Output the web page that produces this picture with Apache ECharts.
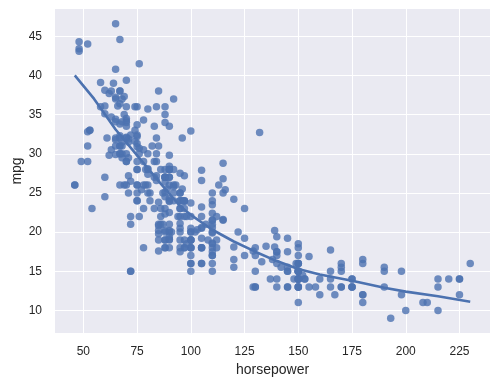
<!DOCTYPE html>
<html>
<head>
<meta charset="utf-8">
<script src="https://cdn.jsdelivr.net/npm/echarts@6/dist/echarts.min.js"></script>
<style>
html,body{margin:0;padding:0;background:#fff;}
#chart{width:499px;height:385px;}
</style>
</head>
<body>
<div id="chart"></div>
<script>
const horsepower = [
130,165,150,150,140,198,220,215,225,190,170,160,150,225,95,95,97,85,88,46,87,90,95,113,90,215,200,210,193,88,90,95,
100,105,100,88,100,165,175,153,150,180,170,175,110,72,100,88,86,
90,70,76,65,69,60,70,95,80,54,90,86,165,175,150,153,150,208,155,160,
190,97,150,130,140,150,112,76,87,69,86,92,97,80,88,175,150,145,137,150,
198,150,158,150,215,225,175,105,100,100,88,95,46,150,167,170,180,100,88,72,
94,90,85,107,90,145,230,49,75,91,112,150,110,122,180,95,
100,100,67,80,65,75,100,110,105,140,150,150,140,150,83,67,78,52,61,75,75,75,97,
93,67,95,105,72,72,170,145,150,148,110,105,110,95,110,110,129,75,83,100,
78,96,71,97,97,70,90,95,88,98,115,53,86,81,92,79,83,140,150,120,
152,100,105,81,90,52,60,70,53,100,78,110,95,71,70,75,72,102,150,88,
108,120,180,145,130,150,68,80,58,96,70,145,110,145,130,110,105,100,98,180,
170,190,149,78,88,75,89,63,83,67,78,97,110,110,48,66,52,70,60,110,
140,139,105,95,85,88,100,90,105,85,110,120,145,165,139,140,68,95,97,75,
95,105,85,97,103,125,115,133,71,68,115,85,88,90,110,130,129,138,135,155,
142,125,150,71,65,80,80,77,125,71,90,70,70,65,69,90,115,115,90,76,
60,70,65,90,88,90,90,78,90,75,92,75,65,105,65,48,48,67,67,67,
67,62,132,100,88,
72,84,84,92,110,84,58,64,60,67,65,62,68,63,65,65,74,
75,75,100,74,80,76,116,120,110,105,88,85,88,88,88,85,84,90,92,
74,68,68,63,70,88,75,70,67,67,67,110,85,92,112,96,84,90,52,84,79,82
];
const mpg = [
18,15,18,16,17,15,14,14,14,15,15,14,15,14,24,22,18,21,27,26,25,24,25,26,21,10,10,11,9,27,28,25,
19,16,17,19,18,14,14,14,14,12,13,13,18,22,19,18,23,
28,30,30,31,35,27,26,24,25,23,20,21,13,14,15,14,17,11,13,12,
13,19,15,13,13,14,18,22,21,26,22,28,23,28,27,13,14,13,14,15,
12,13,13,14,13,12,13,18,16,18,18,23,26,11,12,13,12,18,20,21,
22,18,19,21,26,15,16,29,24,20,19,15,24,20,11,20,
19,15,31,26,32,25,16,16,18,16,13,14,14,14,29,26,26,31,32,28,24,26,24,
26,31,19,18,15,15,16,15,16,14,17,16,15,18,21,20,13,29,23,20,
23,24,25,24,18,29,19,23,23,22,25,33,28,25,25,26,27,17.5,16,15.5,
14.5,22,22,24,22.5,29,24.5,29,33,20,18,18.5,17.5,29.5,32,28,26.5,20,13,19,
19,16.5,16.5,13,13,13,31.5,30,36,25.5,33.5,17.5,17,15.5,15,17.5,20.5,19,18.5,16,
15.5,15.5,16,29,24.5,26,25.5,30.5,33.5,30,30.5,22,21.5,21.5,43.1,36.1,32.8,39.4,36.1,19.9,
19.4,20.2,19.2,20.5,20.2,25.1,20.5,19.4,20.6,20.8,18.6,18.1,19.2,17.7,18.1,17.5,30,27.5,27.2,30.9,
21.1,23.2,23.8,23.9,20.3,17,21.6,16.2,31.5,29.5,21.5,19.8,22.3,20.2,20.6,17,17.6,16.5,18.2,16.9,
15.5,19.2,18.5,31.9,34.1,35.7,27.4,25.4,23,27.2,23.9,34.2,34.5,31.8,37.3,28.4,28.8,26.8,33.5,41.5,
38.1,32.1,37.2,28,26.4,24.3,19.1,34.3,29.8,31.3,37,32.2,46.6,27.9,40.8,44.3,43.4,36.4,30,44.6,
33.8,29.8,32.7,23.7,35,
32.4,27.2,26.6,25.8,23.5,30,39.1,39,35.1,32.3,37,37.7,34.1,34.7,34.4,29.9,33,
33.7,32.4,32.9,31.6,28.1,30.7,25.4,24.2,22.4,26.6,20.2,17.6,28,27,34,31,29,27,24,
36,37,31,38,36,36,36,34,38,32,38,25,38,26,22,32,36,27,44,32,28,31
];
// smoothed trend line
const fitX = [46,55,65,75,85,95,100,110,120,130,140,150,160,175,190,200,215,230];
const fitY = [40.0,37.0,33.1,29.8,26.5,23.3,22.2,20.3,18.8,17.5,16.3,15.3,14.6,13.8,12.9,12.4,11.8,11.1];
const xTicks = [50,75,100,125,150,175,200,225];
const yTicks = [10,15,20,25,30,35,40,45];

const points = horsepower.map((h, i) => [h, mpg[i]]);
const fit = fitX.map((x, i) => [x, fitY[i]]);
const font = 'Liberation Sans, Arial, sans-serif';
const txt = '#262626';

const chart = echarts.init(document.getElementById('chart'), null, {renderer: 'canvas'});
chart.setOption({
  animation: false,
  backgroundColor: '#ffffff',
  grid: {left: 55, right: 9, top: 9, bottom: 52, containLabel: false, outerBoundsMode: 'none',
         show: true, backgroundColor: '#EAEAF2', borderWidth: 0},
  xAxis: {
    type: 'value', min: 36.8, max: 239.2,
    name: 'horsepower', nameLocation: 'middle', nameGap: 30, nameMoveOverlap: false,
    nameTextStyle: {fontFamily: font, fontSize: 14, color: txt},
    axisLine: {show: false},
    axisTick: {show: false, customValues: xTicks},
    axisLabel: {customValues: xTicks, fontFamily: font, fontSize: 12, color: txt, margin: 13},
    splitLine: {show: true, lineStyle: {color: '#ffffff', width: 1}}
  },
  yAxis: {
    type: 'value', min: 7.12, max: 48.48,
    name: 'mpg', nameLocation: 'middle', nameGap: 31, nameMoveOverlap: false,
    nameTextStyle: {fontFamily: font, fontSize: 14, color: txt},
    axisLine: {show: false},
    axisTick: {show: false, customValues: yTicks},
    axisLabel: {customValues: yTicks, fontFamily: font, fontSize: 12, color: txt, margin: 13},
    splitLine: {show: true, lineStyle: {color: '#ffffff', width: 1}}
  },
  series: [
    {
      type: 'scatter', data: points, symbol: 'circle', symbolSize: 7.5,
      itemStyle: {color: '#4C72B0', opacity: 0.8}, z: 2
    },
    {
      type: 'line', data: fit, showSymbol: false, smooth: false,
      lineStyle: {color: '#4C72B0', width: 2.6}, z: 3
    }
  ]
});
</script>
</body>
</html>
